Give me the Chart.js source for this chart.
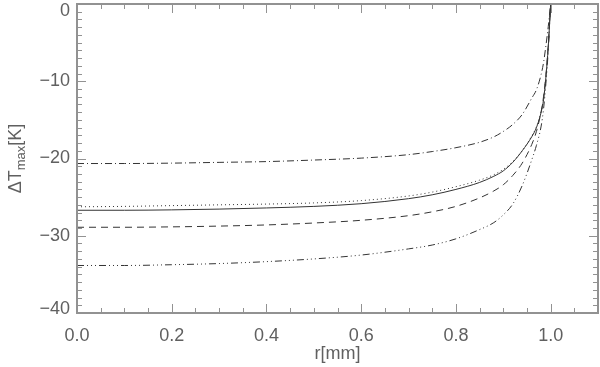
<!DOCTYPE html>
<html>
<head>
<meta charset="utf-8">
<script src="https://cdn.jsdelivr.net/npm/chart.js@4/dist/chart.umd.min.js"></script>
<style>
    html, body { margin: 0; padding: 0; background: #fff; }
    #wrap { width: 600px; height: 367px; }
</style>
</head>
<body>
<div id="wrap"><canvas id="tempChart" width="600" height="367"></canvas></div>
<script>
// radius values (mm) and temperature drops
const rValues     = [0, 0.1, 0.2, 0.3, 0.4, 0.5, 0.6, 0.7, 0.75, 0.8, 0.85, 0.88, 0.9, 0.92, 0.94, 0.96, 0.97, 0.98, 0.985, 0.99, 0.995, 1.0];
const dashDot     = [-20.65, -20.65, -20.6, -20.5, -20.4, -20.2, -19.95, -19.5, -19.1, -18.6, -17.9, -17.2, -16.5, -15.6, -14.3, -12.2, -11.1, -9.1, -7.6, -5.4, -2.9, 0];
const dotted      = [-26.25, -26.2, -26.1, -26.0, -25.9, -25.75, -25.45, -24.85, -24.35, -23.65, -22.8, -22.1, -21.4, -20.4, -19.0, -17.1, -15.9, -13.9, -12.3, -9.4, -5.4, 0];
const solid       = [-26.7, -26.7, -26.65, -26.55, -26.4, -26.2, -25.85, -25.2, -24.7, -24.0, -23.1, -22.3, -21.6, -20.5, -19.0, -17.2, -16.0, -14.0, -12.4, -9.5, -5.5, 0];
const dashed      = [-28.9, -28.9, -28.85, -28.75, -28.6, -28.35, -28.0, -27.4, -26.9, -26.2, -25.1, -24.2, -23.4, -22.2, -20.6, -18.2, -16.5, -13.9, -12.0, -9.2, -5.3, 0];
const dashDotDot  = [-33.85, -33.85, -33.75, -33.6, -33.35, -33.0, -32.5, -31.7, -31.2, -30.4, -29.2, -28.3, -27.3, -25.9, -23.5, -20.2, -18.3, -15.8, -13.6, -10.3, -6.0, 0];

const xTickLabels = [0.0, 0.2, 0.4, 0.6, 0.8, 1.0];
const yTickLabels = [0, -10, -20, -30, -40];

const axisColor = '#929292';
const textColor = '#606060';
const lineColor = '#333';
const fontFamily = '"Liberation Sans", Arial, sans-serif';

function toPoints(ys) {
    return rValues.map((r, i) => ({ x: r, y: ys[i] }));
}

function series(ys, dash) {
    return {
        data: toPoints(ys),
        borderColor: lineColor,
        borderWidth: 1,
        borderDash: dash,
        pointRadius: 0,
        fill: false,
        cubicInterpolationMode: 'monotone'
    };
}

// frame, inward ticks on all four sides, y labels kept inside the frame, y title with subscript
const idlFrame = {
    id: 'idlFrame',
    afterDraw(chart) {
        const ctx = chart.ctx;
        const a = chart.chartArea;
        const xs = chart.scales.x;
        const ys = chart.scales.y;
        ctx.save();
        ctx.strokeStyle = axisColor;
        ctx.lineWidth = 2;
        ctx.strokeRect(a.left, a.top, a.right - a.left, a.bottom - a.top);

        ctx.lineWidth = 1;
        ctx.beginPath();
        for (let i = 0; i <= 22; i++) {
            const px = Math.round(xs.getPixelForValue(i * 0.05)) + 0.5;
            const len = (i % 4 === 0) ? 9 : 5;
            ctx.moveTo(px, a.bottom); ctx.lineTo(px, a.bottom - len);
            ctx.moveTo(px, a.top); ctx.lineTo(px, a.top + len);
        }
        for (let i = 0; i <= 40; i++) {
            const py = Math.round(ys.getPixelForValue(-i)) + 0.5;
            const len = (i % 10 === 0) ? 9 : 5;
            ctx.moveTo(a.left, py); ctx.lineTo(a.left + len, py);
            ctx.moveTo(a.right, py); ctx.lineTo(a.right - len, py);
        }
        ctx.stroke();

        // y tick labels, end ones nudged inside like the original
        ctx.fillStyle = textColor;
        ctx.font = '18px ' + fontFamily;
        ctx.textAlign = 'right';
        ctx.textBaseline = 'middle';
        yTickLabels.forEach(v => {
            let py = ys.getPixelForValue(v);
            if (v === ys.max) py += 7;
            if (v === ys.min) py -= 4;
            const txt = v < 0 ? '\u2212' + Math.abs(v) : String(v);
            ctx.fillText(txt, a.left - 7, py);
        });

        // y axis title: ΔT_max[K]
        ctx.textAlign = 'left';
        ctx.translate(16, (a.top + a.bottom) / 2);
        ctx.rotate(-Math.PI / 2);
        const big = '18px ' + fontFamily;
        const small = '13px ' + fontFamily;
        ctx.font = big;
        const w1 = ctx.measureText('\u0394T').width;
        const w3 = ctx.measureText('[K]').width;
        ctx.font = small;
        const w2 = ctx.measureText('max').width;
        const x0 = -(w1 + w2 + w3) / 2;
        ctx.font = big;
        ctx.fillText('\u0394T', x0, 0);
        ctx.font = small;
        ctx.fillText('max', x0 + w1, 5);
        ctx.font = big;
        ctx.fillText('[K]', x0 + w1 + w2, 0);
        ctx.restore();
    }
};

const ctx = document.getElementById('tempChart').getContext('2d');
const tempChart = new Chart(ctx, {
    type: 'line',
    data: {
        datasets: [
            series(dashDot, [7, 3, 1, 3]),
            series(dotted, [1, 3]),
            series(solid, []),
            series(dashed, [7, 5]),
            series(dashDotDot, [7, 3, 1, 3, 1, 3, 1, 3])
        ]
    },
    options: {
        responsive: false,
        animation: false,
        devicePixelRatio: 1,
        layout: { padding: { top: 4, right: 2, left: 0, bottom: 2 } },
        plugins: {
            legend: { display: false },
            tooltip: { enabled: false }
        },
        scales: {
            x: {
                type: 'linear',
                min: 0,
                max: 1.1,
                grid: { display: false, drawTicks: false },
                border: { display: false },
                afterBuildTicks: scale => {
                    scale.ticks = xTickLabels.map(v => ({ value: v }));
                },
                afterFit: scale => { scale.height = 52; },
                ticks: {
                    padding: 12,
                    color: textColor,
                    font: { family: fontFamily, size: 18 },
                    maxRotation: 0,
                    callback: v => Number(v).toFixed(1)
                },
                title: {
                    display: true,
                    text: 'r[mm]',
                    color: textColor,
                    font: { family: fontFamily, size: 18 },
                    padding: { top: 0, bottom: 0 }
                }
            },
            y: {
                min: -40,
                max: 0,
                grid: { display: false, drawTicks: false },
                border: { display: false },
                afterBuildTicks: scale => {
                    scale.ticks = yTickLabels.map(v => ({ value: v }));
                },
                afterFit: scale => { scale.width = 77; },
                ticks: { display: false }
            }
        }
    },
    plugins: [idlFrame]
});
</script>
</body>
</html>
